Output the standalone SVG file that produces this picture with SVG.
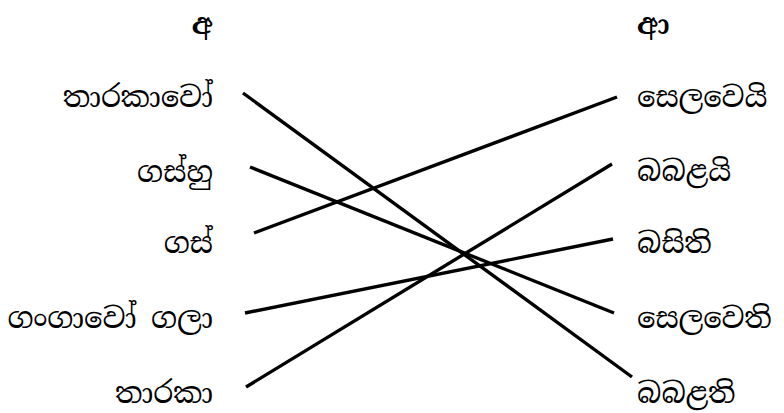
<svg xmlns="http://www.w3.org/2000/svg" width="784" height="413" viewBox="0 0 784 413">
<style>
.t{font-family:"Noto Serif Sinhala","Iskoola Pota","Noto Sans Sinhala","Noto Sans",sans-serif;font-size:29px;fill:#000}
.l{text-anchor:end}
.h{font-weight:bold}
.c line{stroke:#000;stroke-width:3.4;stroke-linecap:butt}
</style>
<rect width="784" height="413" fill="#fff"/>
<g id="head-left"><text class="t h l" x="213" y="34">අ</text></g>
<g id="head-right"><text class="t h" x="637" y="34">ආ</text></g>
<g id="l1"><text class="t l" x="213" y="107">තාරකාවෝ</text></g>
<g id="l2"><text class="t l" x="213" y="182">ගස්හු</text></g>
<g id="l3"><text class="t l" x="213" y="253">ගස්</text></g>
<g id="l4"><text class="t l" x="213" y="328">ගංගාවෝ ගලා</text></g>
<g id="l5"><text class="t l" x="213" y="403">තාරකා</text></g>
<g id="r1"><text class="t" x="637" y="107">සෙලවෙයි</text></g>
<g id="r2"><text class="t" x="637" y="181">බබළයි</text></g>
<g id="r3"><text class="t" x="637" y="253">බසිති</text></g>
<g id="r4"><text class="t" x="637" y="328">සෙලවෙති</text></g>
<g id="r5"><text class="t" x="637" y="403">බබළති</text></g>
<g id="connectors" class="c">
<line x1="243" y1="93" x2="632" y2="377"/>
<line x1="250" y1="167" x2="614" y2="313"/>
<line x1="254" y1="233" x2="617" y2="97"/>
<line x1="245" y1="313" x2="613" y2="239"/>
<line x1="246" y1="387" x2="612" y2="164"/>
</g>
</svg>
